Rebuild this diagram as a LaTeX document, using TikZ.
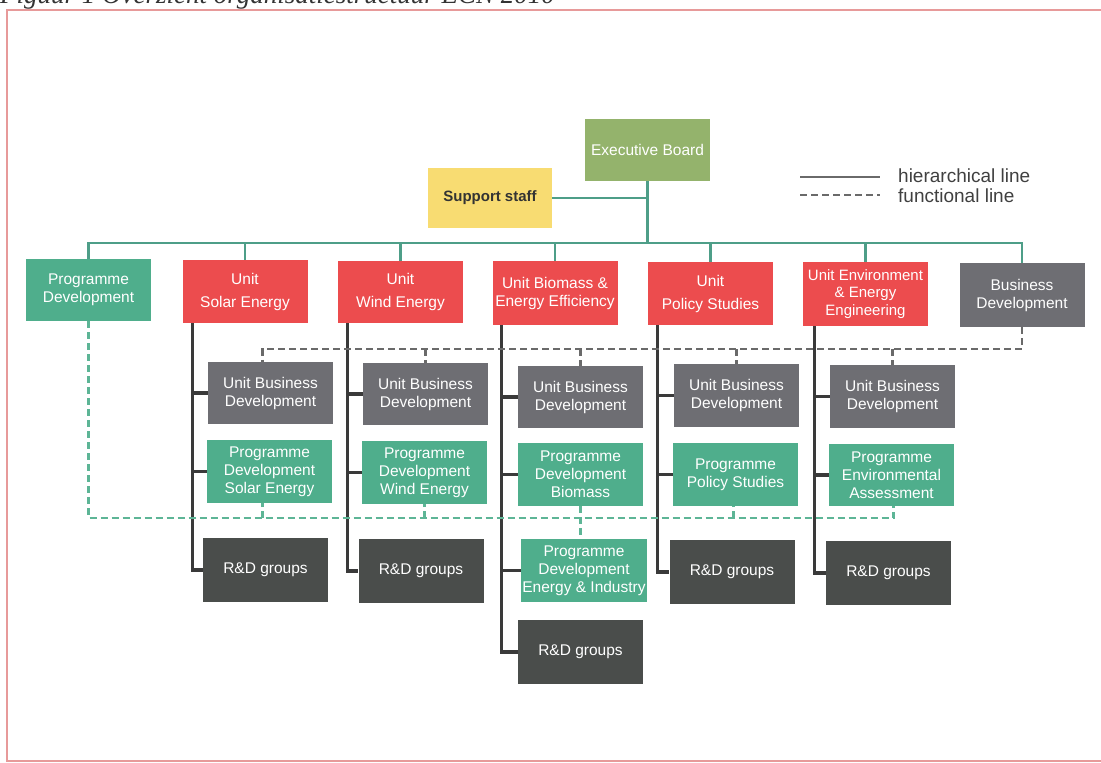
\documentclass[tikz,border=0pt]{standalone}
\usepackage{fontspec}
\setmainfont{Liberation Sans}
\newfontfamily\capfont{Liberation Serif}
\usetikzlibrary{calc}
\definecolor{cRed}{HTML}{EC4C4E}
\definecolor{cProg}{HTML}{4FAE8C}
\definecolor{cUbd}{HTML}{6E6E73}
\definecolor{cRd}{HTML}{4A4D4B}
\definecolor{cEb}{HTML}{94B36C}
\definecolor{cSup}{HTML}{F8DC72}
\definecolor{cHier}{HTML}{4E9E88}
\definecolor{cTrunk}{HTML}{3A3A3A}
\definecolor{cFunc}{HTML}{6A6A6A}
\definecolor{cGdash}{HTML}{5DB596}
\definecolor{cFrame}{HTML}{E79A9A}
\tikzset{
  boxbase/.style={draw=none, minimum width=125pt, minimum height=62pt, inner sep=1pt,
    align=center, text=white, font=\fontsize{15.5}{18}\selectfont},
  unitbox/.style={boxbase, fill=cRed},
  progbox/.style={boxbase, fill=cProg},
  ubdbox/.style={boxbase, fill=cUbd},
  rdbox/.style={boxbase, fill=cRd},
  hier/.style={draw=cHier, line width=2.8pt},
  trunk/.style={draw=cTrunk, line width=3.2pt},
  func/.style={draw=cFunc, line width=2.8pt, dash pattern=on 7pt off 4pt},
  gfunc/.style={draw=cGdash, line width=2.8pt, dash pattern=on 7pt off 4pt},
  legtext/.style={anchor=west, inner sep=0pt, text=black!75, font=\fontsize{19}{21}\selectfont},
}
\begin{document}
\begin{tikzpicture}[x=1pt,y=-1pt]
\useasboundingbox (0,0) rectangle (1101,763);
\clip (0,0) rectangle (1101,763);
% frame
\draw[cFrame, line width=1.5pt] (1105,10) -- (7,10) -- (7,761) -- (1105,761);
% caption (cut off at top, as in the reference)
\node[anchor=base west, inner sep=0pt, text=black!80, font=\capfont\itshape\fontsize{27}{29}\selectfont] (cap) at (0,3) {Figuur 1 Overzicht organisatiestructuur ECN 2010};
% top
\node[boxbase, fill=cEb] (eb) at (647.5,150) {Executive Board};
\node[boxbase, fill=cSup, text=black!80, minimum width=124pt, minimum height=60pt, font=\bfseries\fontsize{15}{18}\selectfont] (sup) at (490,198) {Support staff};
% row 1
\node[progbox] (pd) at (88.5,290) {Programme\\Development};
\node[unitbox, minimum height=63pt] (solar) at (245,291.5) {Unit\\[5pt]Solar Energy};
\node[unitbox] (wind) at (400.5,292) {Unit\\[5pt]Wind Energy};
\node[unitbox, minimum height=64pt] (bio) at (555,293) {Unit Biomass \&\\Energy Efficiency};
\node[unitbox, minimum height=63pt] (pol) at (710.5,293.5) {Unit\\[5pt]Policy Studies};
\node[unitbox, minimum height=64pt, font=\fontsize{15}{17.5}\selectfont] (env) at (865.5,294) {Unit Environment\\\& Energy\\Engineering};
\node[ubdbox, minimum height=64pt] (bd) at (1022,295) {Business\\Development};
% solar column
\node[ubdbox] (subd) at (270.5,393) {Unit Business\\Development};
\node[progbox, minimum height=63pt] (spd) at (269.5,471.5) {Programme\\Development\\Solar Energy};
\node[rdbox, minimum height=64pt] (srd) at (265.5,570) {R\&D groups};
% wind column
\node[ubdbox] (wubd) at (425.5,394) {Unit Business\\Development};
\node[progbox, minimum height=63pt] (wpd) at (424.5,472.5) {Programme\\Development\\Wind Energy};
\node[rdbox, minimum height=64pt] (wrd) at (421,571) {R\&D groups};
% biomass column
\node[ubdbox] (bubd) at (580.5,397) {Unit Business\\Development};
\node[progbox, minimum height=63pt] (bpd) at (580.5,474.5) {Programme\\Development\\Biomass};
\node[progbox, minimum height=63pt] (bpe) at (584,570.5) {Programme\\Development\\Energy \& Industry};
\node[rdbox, minimum height=64pt] (brd) at (580.5,652) {R\&D groups};
% policy column
\node[ubdbox, minimum height=63pt] (pubd) at (736.5,395.5) {Unit Business\\Development};
\node[progbox, minimum height=63pt] (ppd) at (735.5,474.5) {Programme\\Policy Studies};
\node[rdbox, minimum height=64pt] (prd) at (732,572) {R\&D groups};
% environment column
\node[ubdbox, minimum height=63pt] (eubd) at (892.5,396.5) {Unit Business\\Development};
\node[progbox] (epd) at (891.5,475) {Programme\\Environmental\\Assessment};
\node[rdbox, minimum height=64pt] (erd) at (888.5,573) {R\&D groups};
% hierarchical lines (top)
\coordinate (busy) at (0,243);
\draw[hier] (eb.south) -- (eb.south |- busy);
\draw[hier] (sup.east) -- (sup.east -| eb.south);
\draw[hier] (pd.north) -- (pd.north |- busy) -- (bd.north |- busy) -- (bd.north);
\foreach \n in {solar,wind,bio,pol,env} {
  \draw[hier] (\n.north) -- (\n.north |- busy);
}
% trunks
\coordinate (ts) at ($(solar.south west)+(10,0)$);
\coordinate (tw) at ($(wind.south west)+(10,0)$);
\coordinate (tb) at ($(bio.south west)+(9,0)$);
\coordinate (tp) at ($(pol.south west)+(10,0)$);
\coordinate (te) at ($(env.south west)+(12,0)$);
\draw[trunk] (ts) |- (srd.west);
\draw[trunk] (ts |- subd.west) -- (subd.west);
\draw[trunk] (ts |- spd.west) -- (spd.west);
\draw[trunk] (tw) |- (wrd.west);
\draw[trunk] (tw |- wubd.west) -- (wubd.west);
\draw[trunk] (tw |- wpd.west) -- (wpd.west);
\draw[trunk] (tb) |- (brd.west);
\draw[trunk] (tb |- bubd.west) -- (bubd.west);
\draw[trunk] (tb |- bpd.west) -- (bpd.west);
\draw[trunk] (tb |- bpe.west) -- (bpe.west);
\draw[trunk] (tp) |- (prd.west);
\draw[trunk] (tp |- pubd.west) -- (pubd.west);
\draw[trunk] (tp |- ppd.west) -- (ppd.west);
\draw[trunk] (te) |- (erd.west);
\draw[trunk] (te |- eubd.west) -- (eubd.west);
\draw[trunk] (te |- epd.west) -- (epd.west);
% functional (gray) line
\coordinate (fy) at (0,349);
\coordinate (sTap) at ($(subd.north)+(-8,0)$);
\draw[func] (bd.south) -- (bd.south |- fy) -- (sTap |- fy) -- (sTap);
\foreach \n in {wubd,bubd,pubd,eubd} {
  \draw[func] (\n.north |- fy) -- (\n.north);
}
% functional (green) line
\coordinate (gy) at (0,518);
\coordinate (gsTap) at ($(spd.south)+(-7,0)$);
\coordinate (gpTap) at ($(ppd.south)+(-2,0)$);
\coordinate (geTap) at ($(epd.south)+(2,0)$);
\draw[gfunc] (pd.south) -- (pd.south |- gy) -- (geTap |- gy) -- (geTap);
\draw[gfunc] (gsTap |- gy) -- (gsTap);
\draw[gfunc] (wpd.south |- gy) -- (wpd.south);
\draw[gfunc] (bpd.south) -- (bpd.south |- bpe.north);
\draw[gfunc] (gpTap |- gy) -- (gpTap);
% legend
\coordinate (lh1) at (800,177);
\coordinate (lh2) at (880,177);
\coordinate (lf1) at (800,195);
\coordinate (lf2) at (880,195);
\draw[draw=cFunc, line width=2.8pt] (lh1) -- (lh2);
\draw[draw=cFunc, line width=2.8pt, dash pattern=on 7pt off 4pt] (lf1) -- (lf2);
\node[legtext] (lht) at (898,176) {hierarchical line};
\node[legtext] (lft) at (898,196) {functional line};
\end{tikzpicture}
\end{document}
